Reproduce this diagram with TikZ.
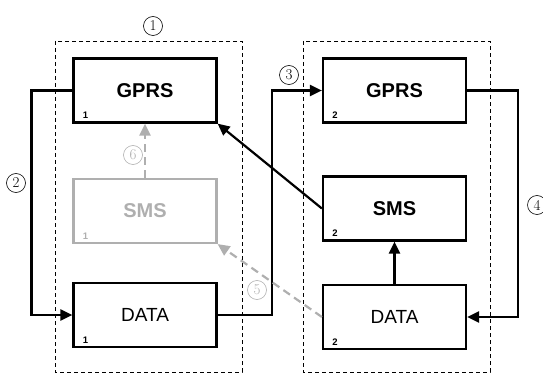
\documentclass[tikz,border=0pt]{standalone}
\usepackage{fontspec}
\newfontfamily\arial{Liberation Sans}
\usetikzlibrary{arrows.meta}
\definecolor{lightgr}{RGB}{175,175,175}
\tikzset{
  unit/.style={draw,line width=2.2pt,minimum width=143pt,minimum height=64pt,
    font=\arial\fontsize{20}{22}\selectfont\bfseries},
  plain unit/.style={unit,font=\arial\fontsize{19}{22}\selectfont},
  tag/.style={font=\arial\fontsize{9.5}{10}\selectfont\bfseries,inner sep=0pt},
  conn/.style={line width=2.2pt,-{Triangle[length=12pt,width=11pt]}},
  ghost/.style={conn,lightgr,dash pattern=on 8pt off 5pt},
  step no/.style={draw,circle,line width=0.6pt,minimum size=19pt,inner sep=0pt,
    font=\fontsize{15}{15}\selectfont}
}
\begin{document}
\begin{tikzpicture}[x=1pt,y=-1pt]
    \useasboundingbox (0,0) rectangle (543,374);
    %% phone 1 and phone 2
    \draw[line width=0.8pt,dash pattern=on 4pt off 3pt] (55,41) rectangle (242,372);
    \draw[line width=0.8pt,dash pattern=on 4pt off 3pt] (303,41) rectangle (490,372);
    %% phone 1 units
    \node[unit] (g1) at (145,90.5) {GPRS};
    \node[unit,lightgr] (s1) at (145,211) {SMS};
    \node[plain unit] (d1) at (145,315) {DATA};
    \node[tag] at ([shift={(13,-8)}]g1.south west) {1};
    \node[tag,lightgr] at ([shift={(13,-8)}]s1.south west) {1};
    \node[tag] at ([shift={(13,-8)}]d1.south west) {1};
    %% phone 2 units
    \node[unit] (g2) at (394.5,90.5) {GPRS};
    \node[unit] (s2) at (394.5,208.5) {SMS};
    \node[plain unit] (d2) at (394.5,317) {DATA};
    \node[tag] at ([shift={(13,-8)}]g2.south west) {2};
    \node[tag] at ([shift={(13,-8)}]s2.south west) {2};
    \node[tag] at ([shift={(13,-8)}]d2.south west) {2};
    %% links
    \draw[conn] (g1.west) -- ++(-41,0) |- (d1.west);
    \draw[conn] (d1.east) -- ++(54,0) |- (g2.west);
    \draw[conn] (g2.east) -- ++(51,0) |- (d2.east);
    \draw[conn] (s2.west) -- (g1.south east);
    \draw[conn] (d2.north) -- (s2.south);
    \draw[ghost] (d2.west) -- (s1.south east);
    \draw[ghost] (s1.north) -- (g1.south);
    %% step numbers (trial and error)
    \node[step no] (n1) at (153,26) {1};
    \node[step no] (n2) at (16,183) {2};
    \node[step no] (n3) at (289,75) {3};
    \node[step no] (n4) at (537,205) {4};
    \node[step no,lightgr] (n5) at (257,290) {5};
    \node[step no,lightgr] (n6) at (133,155) {6};
\end{tikzpicture}
\end{document}
